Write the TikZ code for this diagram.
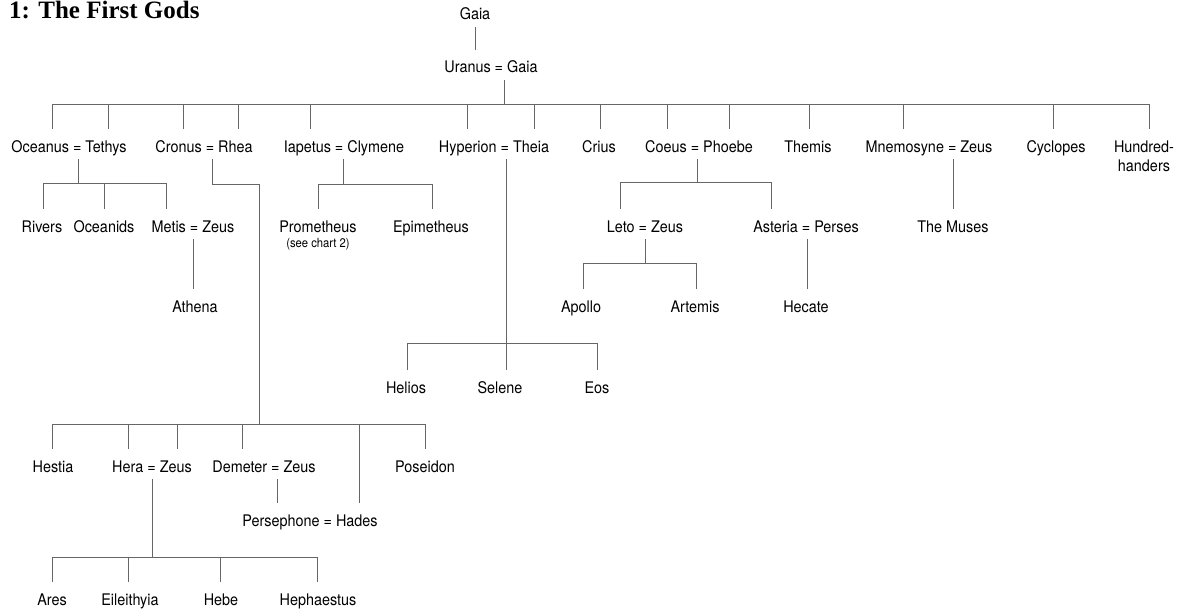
\documentclass[tikz,border=0pt]{standalone}
\usepackage{fontspec}
\setmainfont[FakeStretch=0.9]{TeX Gyre Heros}
\newfontfamily\titlefont{Liberation Serif}
\begin{document}
\begin{tikzpicture}[x=1pt,y=-1pt,
  p/.style={anchor=base, inner sep=0pt, text height=23pt, text depth=7pt, font=\fontsize{16}{18}\selectfont},
  smalltext/.style={anchor=base, inner sep=0pt, font=\fontsize{12.5}{14}\selectfont},
  ln/.style={draw=black!60, line width=0.8pt}]
\useasboundingbox (0,0) rectangle (1182,610);

% title
\node[anchor=base west, inner sep=0pt, font=\titlefont\fontsize{25}{26}\selectfont\bfseries] (title) at (9,18.5) {1: The First Gods};

% level 0/1
\node[p] (gaia) at (475,20) {Gaia};
\node[p] (uranus) at (491,73) {Uranus = Gaia};

% row 1
\node[p] (oceanus) at (69,152) {Oceanus = Tethys};
\node[p] (cronus) at (204,152) {Cronus = Rhea};
\node[p] (iapetus) at (344,152) {Iapetus = Clymene};
\node[p] (hyperion) at (494,152) {Hyperion = Theia};
\node[p] (crius) at (599,152) {Crius};
\node[p] (coeus) at (699,152) {Coeus = Phoebe};
\node[p] (themis) at (808,152) {Themis};
\node[p] (mnemosyne) at (929,152) {Mnemosyne = Zeus};
\node[p] (cyclopes) at (1056,152) {Cyclopes};
\node[anchor=north, inner sep=0pt, align=center, font=\fontsize{16}{19}\selectfont] (hundred) at (1144,140.5) {Hundred-\\handers};

% row 2
\node[p] (rivers) at (42,232) {Rivers};
\node[p] (oceanids) at (104,232) {Oceanids};
\node[p] (metis) at (193,232) {Metis = Zeus};
\node[p] (prometheus) at (318,232) {Prometheus};
\node[smalltext] (seechart) at (318,247) {(see chart 2)};
\node[p] (epimetheus) at (431,232) {Epimetheus};
\node[p] (leto) at (645,232) {Leto = Zeus};
\node[p] (asteria) at (806,232) {Asteria = Perses};
\node[p] (muses) at (953,232) {The Muses};

% row 3
\node[p] (athena) at (195,312) {Athena};
\node[p] (apollo) at (581,312) {Apollo};
\node[p] (artemis) at (695,312) {Artemis};
\node[p] (hecate) at (806,312) {Hecate};

% Hyperion's children
\node[p] (helios) at (406,393) {Helios};
\node[p] (selene) at (500,393) {Selene};
\node[p] (eos) at (597,393) {Eos};

% Cronus' children
\node[p] (hestia) at (53,472) {Hestia};
\node[p] (hera) at (152,472) {Hera = Zeus};
\node[p] (demeter) at (264,472) {Demeter = Zeus};
\node[p] (poseidon) at (425,472) {Poseidon};
\node[p] (persephone) at (310,526) {Persephone = Hades};

% Hera's children
\node[p] (ares) at (52,605) {Ares};
\node[p] (eileithyia) at (130,605) {Eileithyia};
\node[p] (hebe) at (221,605) {Hebe};
\node[p] (hephaestus) at (318,605) {Hephaestus};

% bar levels
\coordinate (topbar) at (0,104);
\coordinate (oceanbar) at (0,183);
\coordinate (cronusbend) at (0,184);
\coordinate (iapbar) at (0,184);
\coordinate (coeusbar) at (0,182);
\coordinate (letobar) at (0,263);
\coordinate (hypbar) at (0,343);
\coordinate (cronusbar) at (0,424);
\coordinate (herabar) at (0,557);

% Gaia -> Uranus
\draw[ln] (gaia.south) -- (uranus.north -| gaia.south);

% Uranus = Gaia -> children
\draw[ln] (uranus.south -| 504,0) -- (topbar -| 504,0);
\draw[ln] (topbar -| 52,0) -- (topbar -| 1149,0);
\draw[ln] (oceanus.north -| 52,0) -- (topbar -| 52,0);
\draw[ln] (oceanus.north -| 108,0) -- (topbar -| 108,0);
\draw[ln] (cronus.north -| 183,0) -- (topbar -| 183,0);
\draw[ln] (cronus.north -| 238,0) -- (topbar -| 238,0);
\draw[ln] (iapetus.north -| 310,0) -- (topbar -| 310,0);
\draw[ln] (hyperion.north -| 467,0) -- (topbar -| 467,0);
\draw[ln] (hyperion.north -| 534,0) -- (topbar -| 534,0);
\draw[ln] (crius.north -| 600,0) -- (topbar -| 600,0);
\draw[ln] (coeus.north -| 667,0) -- (topbar -| 667,0);
\draw[ln] (coeus.north -| 729,0) -- (topbar -| 729,0);
\draw[ln] (themis.north -| 809,0) -- (topbar -| 809,0);
\draw[ln] (mnemosyne.north -| 903,0) -- (topbar -| 903,0);
\draw[ln] (cyclopes.north -| 1053,0) -- (topbar -| 1053,0);
\draw[ln] ([yshift=11.5pt]hundred.north -| 1149,0) -- (topbar -| 1149,0);

% Oceanus = Tethys
\draw[ln] (oceanus.south -| 78,0) -- (oceanbar -| 78,0);
\draw[ln] (oceanbar -| 43,0) -- (oceanbar -| 166,0);
\draw[ln] (rivers.north -| 43,0) -- (oceanbar -| 43,0);
\draw[ln] (oceanids.north -| 104,0) -- (oceanbar -| 104,0);
\draw[ln] (metis.north -| 166,0) -- (oceanbar -| 166,0);
\draw[ln] (metis.south) -- (athena.north -| metis.south);

% Cronus = Rhea
\draw[ln] (cronus.south -| 212,0) |- (cronusbend -| 259,0) -- (cronusbar -| 259,0);
\draw[ln] (cronusbar -| 52,0) -- (cronusbar -| 425,0);
\draw[ln] (hestia.north -| 52,0) -- (cronusbar -| 52,0);
\draw[ln] (hera.north -| 128,0) -- (cronusbar -| 128,0);
\draw[ln] (hera.north -| 177,0) -- (cronusbar -| 177,0);
\draw[ln] (demeter.north -| 242,0) -- (cronusbar -| 242,0);
\draw[ln] (persephone.north -| 359,0) -- (cronusbar -| 359,0);
\draw[ln] (poseidon.north -| 425,0) -- (cronusbar -| 425,0);
\draw[ln] (demeter.south -| 277,0) -- (persephone.north -| 277,0);

% Hera = Zeus
\draw[ln] (hera.south) -- (herabar -| hera.south);
\draw[ln] (herabar -| 52,0) -- (herabar -| 317,0);
\draw[ln] (ares.north -| 52,0) -- (herabar -| 52,0);
\draw[ln] (eileithyia.north -| 128,0) -- (herabar -| 128,0);
\draw[ln] (hebe.north -| 220,0) -- (herabar -| 220,0);
\draw[ln] (hephaestus.north -| 317,0) -- (herabar -| 317,0);

% Iapetus = Clymene
\draw[ln] (iapetus.south -| 343,0) -- (iapbar -| 343,0);
\draw[ln] (iapbar -| 318,0) -- (iapbar -| 432,0);
\draw[ln] (prometheus.north -| 318,0) -- (iapbar -| 318,0);
\draw[ln] (epimetheus.north -| 432,0) -- (iapbar -| 432,0);

% Hyperion = Theia
\draw[ln] (hyperion.south -| 506,0) -- (hypbar -| 506,0);
\draw[ln] (hypbar -| 407,0) -- (hypbar -| 597,0);
\draw[ln] (helios.north -| 407,0) -- (hypbar -| 407,0);
\draw[ln] (selene.north -| 506,0) -- (hypbar -| 506,0);
\draw[ln] (eos.north -| 597,0) -- (hypbar -| 597,0);

% Coeus = Phoebe
\draw[ln] (coeus.south -| 697,0) -- (coeusbar -| 697,0);
\draw[ln] (coeusbar -| 620,0) -- (coeusbar -| 771,0);
\draw[ln] (leto.north -| 620,0) -- (coeusbar -| 620,0);
\draw[ln] (asteria.north -| 771,0) -- (coeusbar -| 771,0);

% Leto = Zeus
\draw[ln] (leto.south) -- (letobar -| leto.south);
\draw[ln] (letobar -| 583,0) -- (letobar -| 696,0);
\draw[ln] (apollo.north -| 583,0) -- (letobar -| 583,0);
\draw[ln] (artemis.north -| 696,0) -- (letobar -| 696,0);

% Asteria = Perses
\draw[ln] (asteria.south -| 807,0) -- (hecate.north -| 807,0);

% Mnemosyne = Zeus
\draw[ln] (mnemosyne.south -| 953,0) -- (muses.north -| 953,0);
\end{tikzpicture}
\end{document}
